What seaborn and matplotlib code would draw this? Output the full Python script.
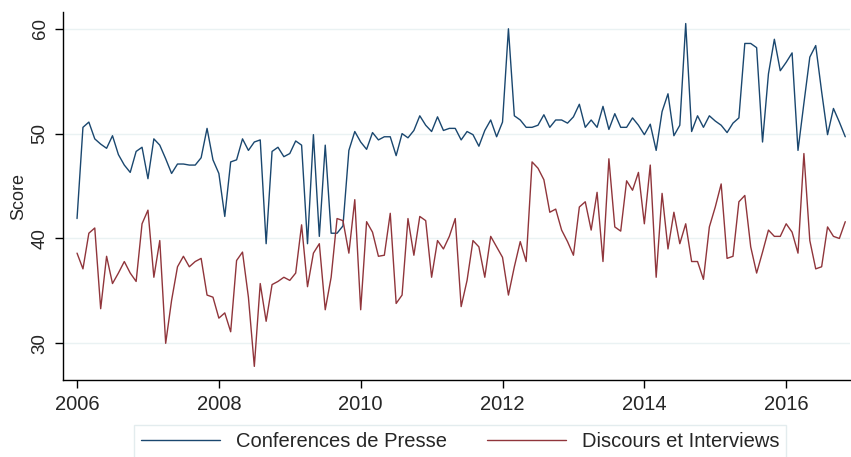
#%% imports
import numpy as np
import pandas as pd
import matplotlib.pyplot as plt
import seaborn as sns

#%% data (monthly scores, Jan 2006 - Nov 2016)
start_year = 2006
conferences = [
    41.9, 50.6, 51.1, 49.5, 49.0, 48.6, 49.8, 48.0, 47.0, 46.3, 48.3, 48.7,
    45.7, 49.5, 48.9, 47.6, 46.2, 47.1, 47.1, 47.0, 47.0, 47.7, 50.5, 47.5,
    46.2, 42.1, 47.3, 47.5, 49.5, 48.4, 49.2, 49.4, 39.5, 48.3, 48.7, 47.8,
    48.1, 49.3, 48.9, 39.5, 49.9, 40.2, 48.9, 40.5, 40.5, 41.2, 48.4, 50.2,
    49.2, 48.5, 50.1, 49.4, 49.7, 49.7, 47.9, 50.0, 49.6, 50.3, 51.7, 50.8,
    50.2, 51.6, 50.3, 50.5, 50.5, 49.4, 50.2, 49.9, 48.8, 50.3, 51.3, 49.7,
    51.1, 60.0, 51.7, 51.3, 50.6, 50.6, 50.8, 51.8, 50.6, 51.3, 51.3, 51.0,
    51.6, 52.8, 50.6, 51.3, 50.6, 52.6, 50.4, 51.9, 50.6, 50.6, 51.5, 50.8,
    49.9, 50.9, 48.4, 52.1, 53.8, 49.8, 50.8, 60.5, 50.2, 51.7, 50.6, 51.7,
    51.2, 50.8, 50.1, 51.0, 51.5, 58.6, 58.6, 58.2, 49.2, 55.7, 59.0, 56.0,
    56.8, 57.7, 48.4, 52.9, 57.3, 58.4, 54.0, 49.9, 52.4, 51.1, 49.7,
]
discours = [
    38.6, 37.1, 40.5, 41.0, 33.3, 38.3, 35.7, 36.7, 37.8, 36.7, 35.9, 41.4,
    42.7, 36.3, 39.8, 30.0, 34.1, 37.3, 38.3, 37.3, 37.8, 38.1, 34.6, 34.4,
    32.4, 32.9, 31.1, 37.9, 38.7, 34.4, 27.8, 35.7, 32.1, 35.6, 35.9, 36.3,
    36.0, 36.7, 41.3, 35.4, 38.6, 39.5, 33.2, 36.3, 41.9, 41.7, 38.6, 43.7,
    33.2, 41.6, 40.6, 38.3, 38.4, 42.4, 33.8, 34.6, 41.9, 38.4, 42.1, 41.7,
    36.3, 39.8, 39.0, 40.2, 41.9, 33.5, 36.0, 39.8, 39.2, 36.3, 40.2, 39.2,
    38.2, 34.6, 37.3, 39.7, 37.8, 47.3, 46.7, 45.6, 42.5, 42.8, 40.8, 39.7,
    38.4, 43.0, 43.5, 40.8, 44.4, 37.8, 47.6, 41.1, 40.7, 45.5, 44.6, 46.3,
    41.4, 47.0, 36.3, 44.3, 39.0, 42.5, 39.5, 41.4, 37.8, 37.8, 36.1, 41.1,
    43.0, 45.2, 38.1, 38.3, 43.5, 44.1, 39.2, 36.7, 38.7, 40.8, 40.2, 40.2,
    41.4, 40.6, 38.6, 48.1, 39.8, 37.1, 37.3, 41.1, 40.2, 40.0, 41.6,
]
series_names = ["Conferences de Presse", "Discours et Interviews"]
colors = ["#1a476f", "#90353b"]
x_ticks = [2006, 2008, 2010, 2012, 2014, 2016]
y_ticks = [30, 40, 50, 60]

time = start_year + np.arange(len(conferences)) / 12
df = pd.concat([
    pd.DataFrame({"time": time, "score": conferences, "type": series_names[0]}),
    pd.DataFrame({"time": time, "score": discours, "type": series_names[1]}),
])

#%% plot
sns.set_style("white")
plt.rcParams["font.family"] = ["Liberation Sans", "DejaVu Sans"]

fig = plt.figure(figsize=(8.51, 4.57), dpi=100)
ax = fig.add_axes([62.5 / 851, 1 - 380 / 457, (850 - 62.5) / 851, 368 / 457])

sns.lineplot(data=df, x="time", y="score", hue="type", palette=colors,
             linewidth=1.0, ax=ax, legend=False)

ax.set_xlim(2005.795, 2016.9)
ax.set_ylim(26.5, 61.6)
ax.set_xticks(x_ticks)
ax.set_yticks(y_ticks)
ax.tick_params(axis="both", length=6, width=1, color="black",
               direction="out", bottom=True, left=True)
ax.tick_params(axis="x", labelsize=14.5, pad=5)
ax.tick_params(axis="y", labelsize=13.5, pad=4)
plt.setp(ax.get_yticklabels(), rotation=90, va="center")
ax.set_xlabel("")
ax.set_ylabel("Score", fontsize=13, labelpad=3)
ax.yaxis.grid(True, color="#eaf2f3", linewidth=1)
for side in ["top", "right"]:
    ax.spines[side].set_visible(False)
for side in ["left", "bottom"]:
    ax.spines[side].set_color("black")
    ax.spines[side].set_linewidth(1)

handles = [plt.Line2D([], [], color=c, linewidth=1.0) for c in colors]
fig.legend(handles, series_names, loc="upper center", ncol=2,
           bbox_to_anchor=(0.541, 32 / 457), fontsize=14.5, frameon=True,
           fancybox=False, edgecolor="#dde8ea", handlelength=3.9,
           handletextpad=0.8, columnspacing=2.0, borderpad=0.35,
           borderaxespad=0)

plt.savefig("out.png", dpi=100)
